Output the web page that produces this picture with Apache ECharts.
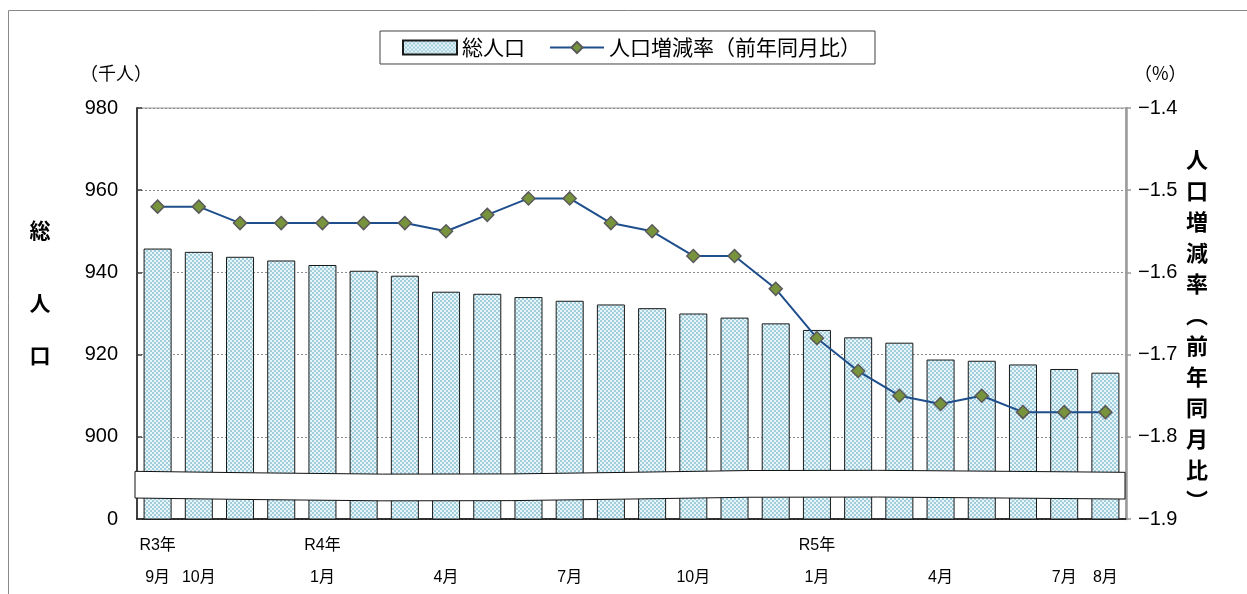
<!DOCTYPE html>
<html><head><meta charset="utf-8">
<script src="https://cdn.jsdelivr.net/npm/echarts@6/dist/echarts.min.js"></script>
<style>html,body{margin:0;padding:0;background:#fff}#c{width:1247px;height:594px}</style>
</head><body><div id="c"></div>
<script>
// ---- data ----
const categories = ['R3年9月','R3年10月','R3年11月','R3年12月','R4年1月','R4年2月','R4年3月','R4年4月','R4年5月','R4年6月','R4年7月','R4年8月','R4年9月','R4年10月','R4年11月','R4年12月','R5年1月','R5年2月','R5年3月','R5年4月','R5年5月','R5年6月','R5年7月','R5年8月'];
const yearLabels  = ['R3年','','','','R4年','','','','','','','','','','','','R5年','','','','','','',''];
const monthLabels = ['9月','10月','','','1月','','','4月','','','7月','','','10月','','','1月','','','4月','','','7月','8月'];
const population = [945.8,945.0,943.8,942.9,941.8,940.4,939.2,935.3,934.8,934.0,933.1,932.2,931.3,930.0,929.0,927.6,926.0,924.2,922.9,918.8,918.5,917.6,916.5,915.6];
const changeRate = [-1.52,-1.52,-1.54,-1.54,-1.54,-1.54,-1.54,-1.55,-1.53,-1.51,-1.51,-1.54,-1.55,-1.58,-1.58,-1.62,-1.68,-1.72,-1.75,-1.76,-1.75,-1.77,-1.77,-1.77];
const leftAxis = {min: 880, max: 980, step: 20, zeroLabelAt: 880};
const rightAxis = {min: -1.9, max: -1.4, step: 0.1};
const breakBand = {top: 891.6, bottom: 885.1};

const NUM = "'Liberation Sans', 'Noto Sans CJK JP', sans-serif";
const JP = "'Noto Sans CJK JP', 'Liberation Sans', sans-serif";

function makePattern(){
  const c=document.createElement('canvas');c.width=4;c.height=4;
  const g=c.getContext('2d');
  g.fillStyle='#e6f6f9';g.fillRect(0,0,4,4);
  g.fillStyle='#a3cddc';g.fillRect(0,0,2,2);g.fillRect(2,2,2,2);
  return c;
}
const pattern = {image: makePattern(), repeat: 'repeat'};

const chart = echarts.init(document.getElementById('c'), null, {renderer:'canvas'});
chart.setOption({
  animation:false,
  backgroundColor:'#fff',
  legend:{
    top:31, left:380,
    padding:[6,14,6,22],
    borderColor:'#404040', borderWidth:1,
    itemGap:24, itemWidth:54, itemHeight:14,
    textStyle:{fontFamily:JP, fontSize:21, color:'#000'},
    data:[{name:'総人口', icon:'rect'},{name:'人口増減率（前年同月比）'}]
  },
  grid:{left:137, right:121, top:108, bottom:75, show:true, borderColor:'#999', borderWidth:1, backgroundColor:'transparent'},
  xAxis:{
    type:'category', data:categories,
    axisLine:{lineStyle:{color:'#000', width:1.5}},
    axisTick:{show:false},
    axisLabel:{
      interval:0, margin:11,
      formatter:(v,i)=>'{y|'+(yearLabels[i]||'\u00a0')+'}\n{m|'+(monthLabels[i]||'\u00a0')+'}',
      rich:{
        y:{fontFamily:NUM, fontSize:16, color:'#000', lineHeight:32},
        m:{fontFamily:NUM, fontSize:16, color:'#000', lineHeight:32}
      }
    }
  },
  yAxis:[{
    type:'value', min:leftAxis.min, max:leftAxis.max, interval:leftAxis.step,
    axisLine:{show:true, lineStyle:{color:'#404040', width:2}},
    axisTick:{show:true, inside:true, length:5, lineStyle:{color:'#404040', width:1.5}},
    axisLabel:{fontFamily:NUM, fontSize:20, color:'#000', margin:19,
      formatter:v=> v===leftAxis.zeroLabelAt ? '0' : String(v)},
    splitLine:{show:true, lineStyle:{color:'#8a8a8a', width:1, type:[2,2]}}
  },{
    type:'value', min:rightAxis.min, max:rightAxis.max, interval:rightAxis.step,
    axisLine:{show:true, lineStyle:{color:'#9a9a9a', width:2.5}},
    axisTick:{show:true, inside:false, length:5, lineStyle:{color:'#9a9a9a', width:1.5}},
    axisLabel:{fontFamily:NUM, fontSize:20, color:'#000', margin:12,
      formatter:v=> '\u2212'+Math.abs(v).toFixed(1)},
    splitLine:{show:false}
  }],
  series:[{
    name:'総人口', type:'bar', data:population, yAxisIndex:0,
    barCategoryGap:'32%',
    itemStyle:{color:pattern, borderColor:'#1a1a1a', borderWidth:1}
  },{
    name:'人口増減率（前年同月比）', type:'line', data:changeRate, yAxisIndex:1,
    symbol:'diamond', symbolSize:13,
    lineStyle:{color:'#1f4e8c', width:2},
    itemStyle:{color:'#77933c', borderColor:'#5a5a5a', borderWidth:1.5}
  }]
});

// ---- decorations (break band, titles, border) ----
const gx0 = chart.convertToPixel({xAxisIndex:0}, 0);
const gxN = chart.convertToPixel({xAxisIndex:0}, categories.length-1);
const half = (gxN-gx0)/(categories.length-1)/2;
const xL = gx0-half-2, xR = gxN+half-1;
const yT = chart.convertToPixel({yAxisIndex:0}, breakBand.top);
const yB = chart.convertToPixel({yAxisIndex:0}, breakBand.bottom);
const fr = [0,0.12,0.25,0.38,0.5,0.62,0.75,0.88,1];
const dy = [0,1.5,2.8,2.6,1,-0.8,-1,0,1];
const topPts = fr.map((f,i)=>[xL+(xR-xL)*f, yT+dy[i]]);
const botPts = fr.map((f,i)=>[xL+(xR-xL)*f, yB+dy[i]]).reverse();

const rightTitle = ['人','口','増','減','率','︵','前','年','同','月','比','︶'].join('\n');

chart.setOption({graphic:[
  {type:'rect', z:200, silent:true, shape:{x:8.5, y:10.5, width:1260, height:620}, style:{fill:'none', stroke:'#888', lineWidth:1}},
  {type:'polygon', z:150, silent:true, shape:{points: topPts.concat(botPts)}, style:{fill:'#fff', stroke:'#111', lineWidth:1}},
  {type:'text', z:150, left:80, top:64, style:{text:'（千人）', font:'18px '+JP, fill:'#000'}},
  {type:'text', z:150, left:1134, top:64, style:{text:'（%）', font:'18px '+JP, fill:'#000'}},
  {type:'text', z:150, x:40, y:230, style:{text:'総', font:'bold 21px '+JP, fill:'#000', align:'center', verticalAlign:'middle'}},
  {type:'text', z:150, x:40, y:303, style:{text:'人', font:'bold 21px '+JP, fill:'#000', align:'center', verticalAlign:'middle'}},
  {type:'text', z:150, x:40, y:355, style:{text:'口', font:'bold 21px '+JP, fill:'#000', align:'center', verticalAlign:'middle'}},
  {type:'text', z:150, x:1197, y:144, style:{text:rightTitle, font:'bold 22px '+JP, lineHeight:31, fill:'#000', align:'center', verticalAlign:'top'}}
]});
</script></body></html>
